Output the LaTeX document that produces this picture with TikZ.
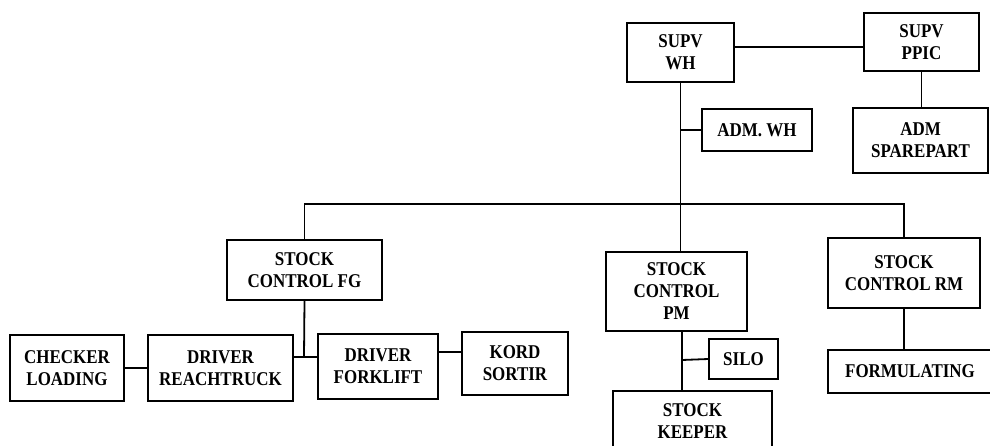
\documentclass[tikz,border=0pt]{standalone}
\usepackage{fontspec}
\setmainfont{Liberation Serif}[FakeStretch=0.87]
\usepackage{tikz}
\usetikzlibrary{positioning, calc}

\begin{document}
\begin{tikzpicture}[
  x=1pt, y=-1pt,
  unit/.style={draw, line width=1.3pt, align=center, inner sep=0pt,
    font=\fontsize{19.5}{22}\selectfont\bfseries},
  link/.style={line width=1.8pt, line cap=rect}
]
\clip (0,0) rectangle (990,446);

% Nodes
\node[unit, minimum width=107, minimum height=59] (supvwh) at (680.5,52.5) {SUPV\\WH};
\node[unit, minimum width=115, minimum height=58] (supvppic) at (921.5,42) {SUPV\\PPIC};
\node[unit, minimum width=110, minimum height=42] (admwh) at (757,130) {ADM. WH};
\node[unit, minimum width=135, minimum height=65] (admsp) at (920.5,140.5) {ADM\\SPAREPART};
\node[unit, minimum width=155, minimum height=60] (scfg) at (304.5,270) {STOCK\\CONTROL FG};
\node[unit, minimum width=141, minimum height=79] (scpm) at (676.5,291.5) {STOCK\\CONTROL\\PM};
\node[unit, minimum width=152, minimum height=70] (scrm) at (904,273) {STOCK\\CONTROL RM};
\node[unit, minimum width=114, minimum height=66] (checker) at (67,368) {CHECKER\\LOADING};
\node[unit, minimum width=145, minimum height=66] (reach) at (220.5,368) {DRIVER\\REACHTRUCK};
\node[unit, minimum width=120, minimum height=65] (forklift) at (378,366.5) {DRIVER\\FORKLIFT};
\node[unit, minimum width=106, minimum height=63] (kord) at (515,363.5) {KORD\\SORTIR};
\node[unit, minimum width=69, minimum height=40] (silo) at (743.5,359) {SILO};
\node[unit, minimum width=159, minimum height=60] (keeper) at (692.5,421) {STOCK\\KEEPER};
\node[unit, minimum width=164, minimum height=43] (formul) at (910,371.5) {FORMULATING};

% Joints
\coordinate (bus) at (0,204);
\coordinate (fgj) at (304,357);
\coordinate (pmj) at (682,360);

% Lines
\draw[link] ([yshift=5.5pt]supvwh.east) -- ([yshift=5.5pt]supvwh.east -| supvppic.west);
\draw[link] (supvwh.south) -- (supvwh.south |- scpm.north);
\draw[link] (supvwh.south |- admwh.west) -- (admwh.west);
\draw[link] (supvppic.south) -- (supvppic.south |- admsp.north);
\draw[link] (scfg.north) -- (scfg.north |- bus) -- (scrm.north |- bus) -- (scrm.north);
\draw[link] (scfg.south) -- (fgj);
\draw[link] (reach.east |- fgj) -- (forklift.west |- fgj);
\draw[link] (checker.east) -- (reach.west);
\draw[link] ([yshift=14.5pt]forklift.east) -- ([yshift=14.5pt]forklift.east -| kord.west);
\draw[link] (pmj |- scpm.south) -- (pmj |- keeper.north);
\draw[link] (pmj) -- (silo.west);
\draw[link] (scrm.south) -- (scrm.south |- formul.north);

\end{tikzpicture}
\end{document}
